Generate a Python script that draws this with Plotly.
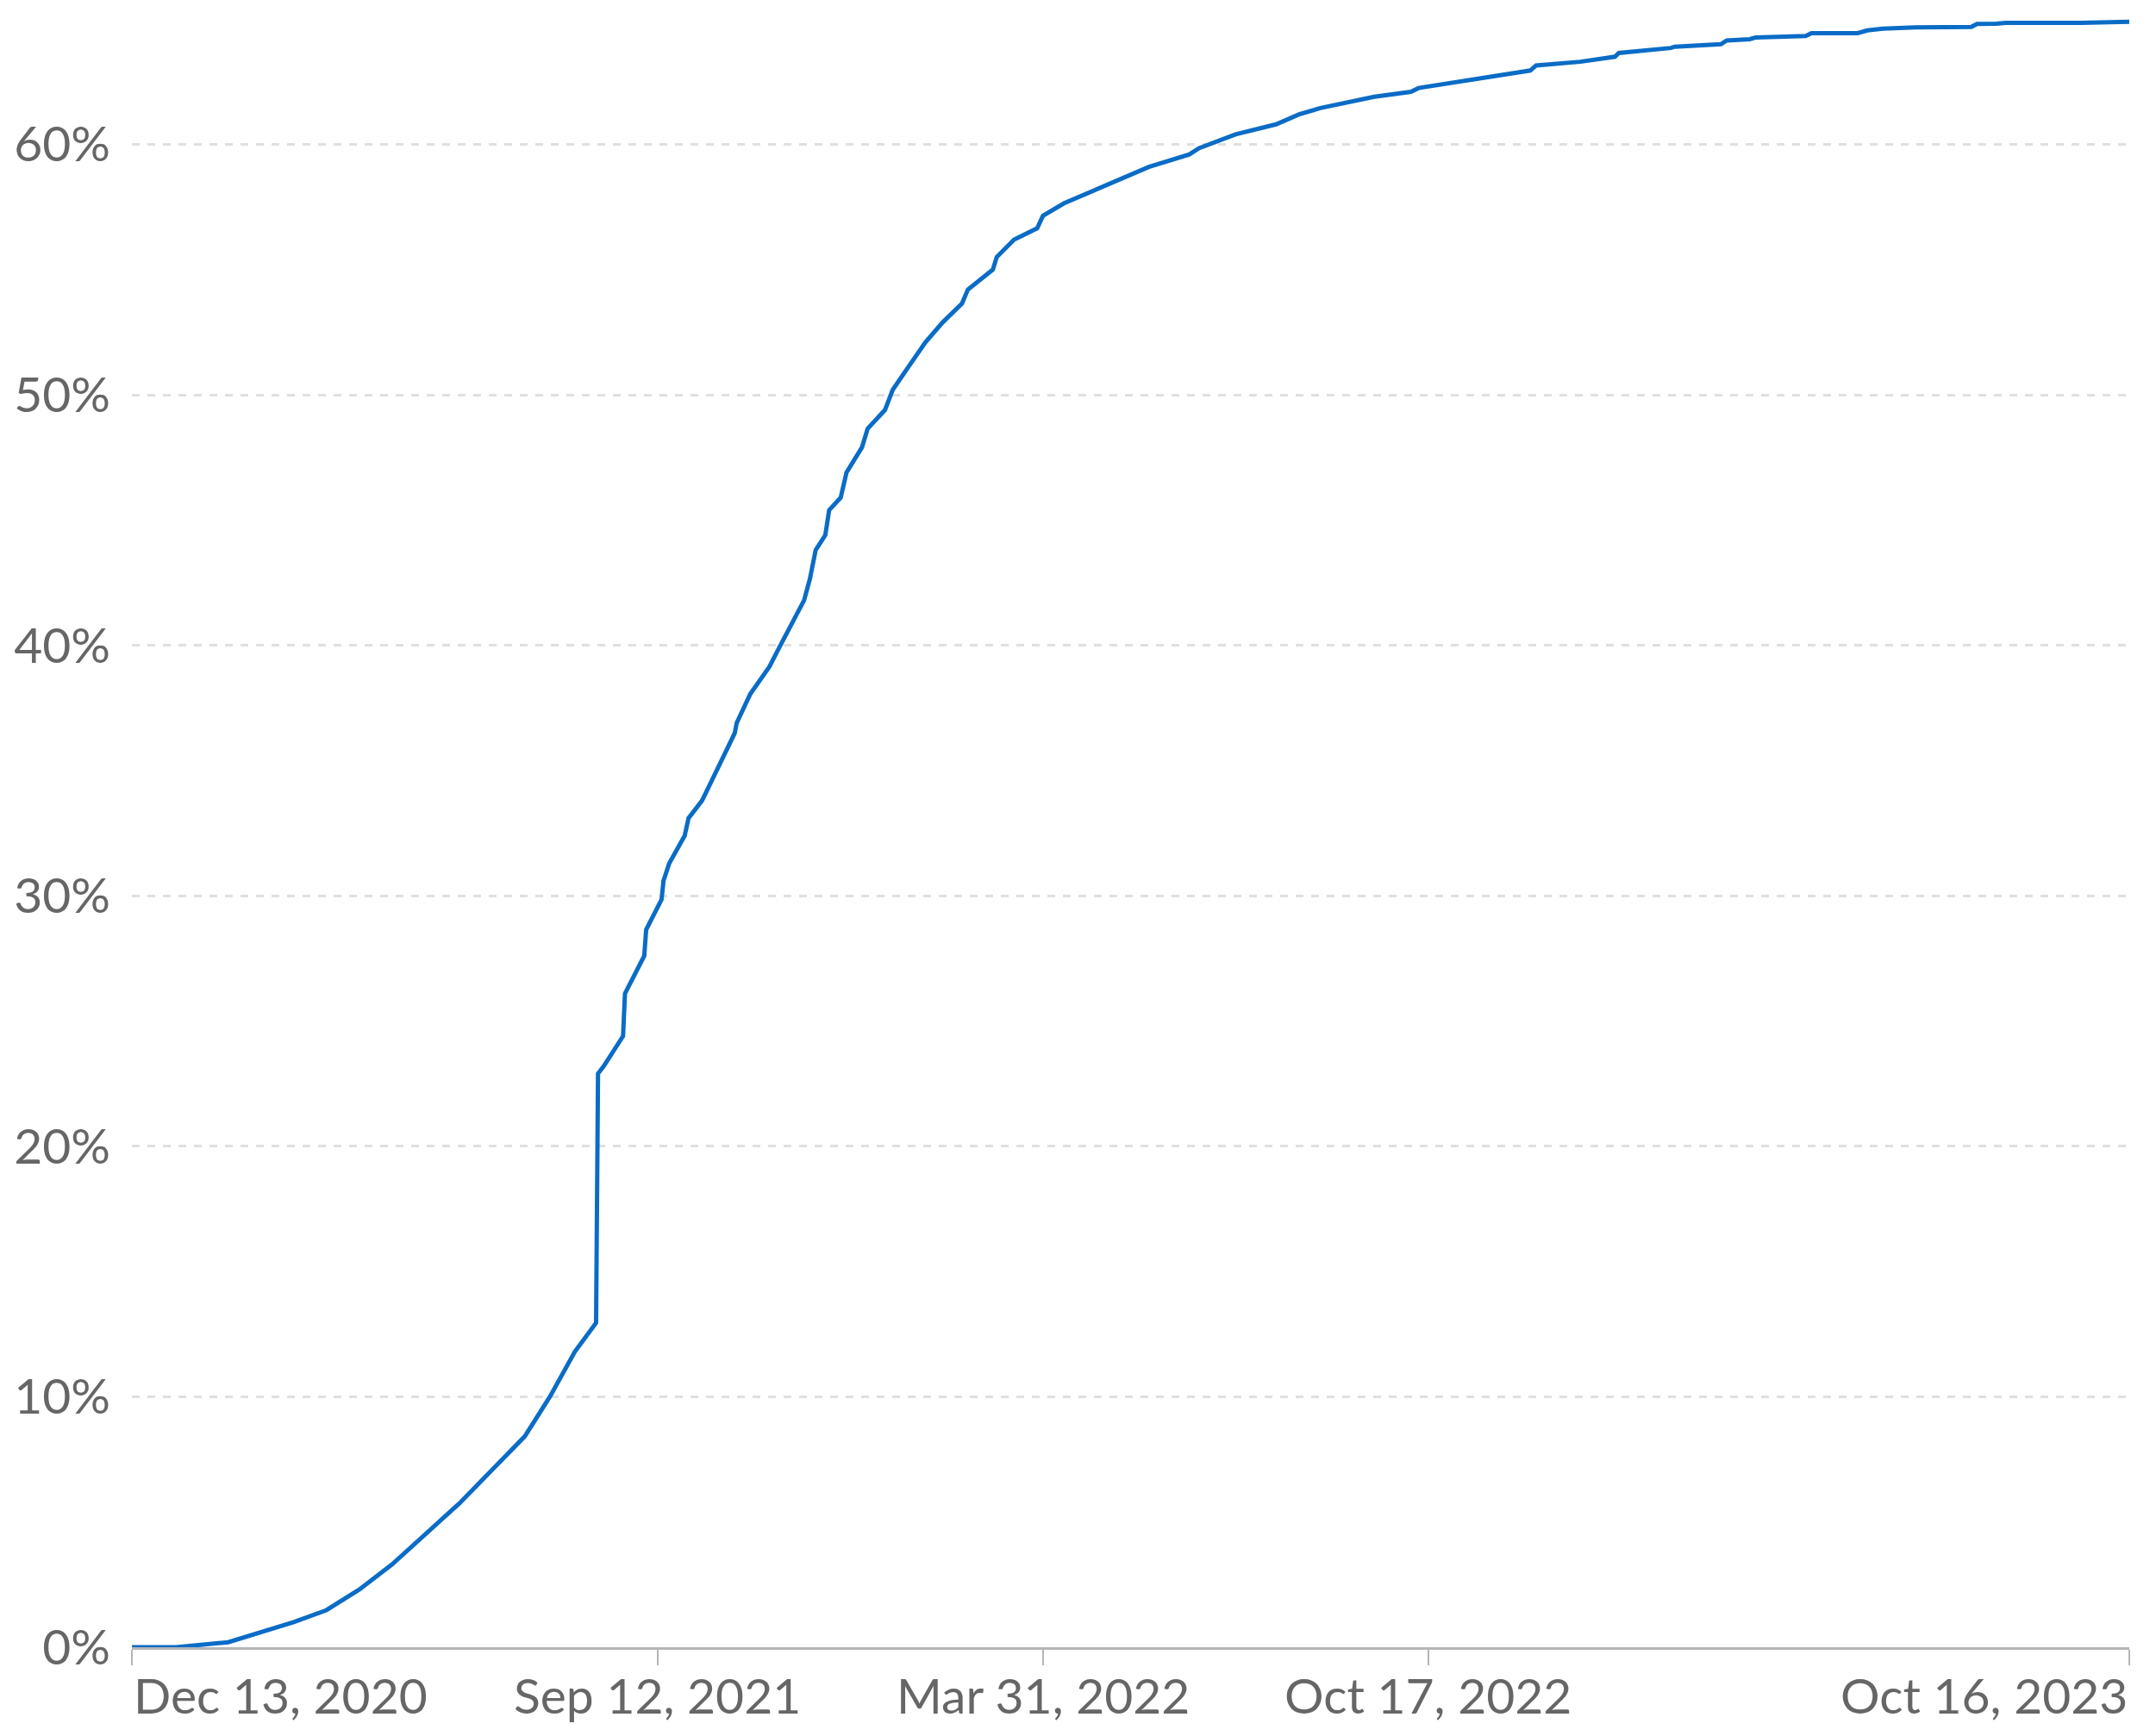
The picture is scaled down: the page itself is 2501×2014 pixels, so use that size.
import plotly.graph_objects as go

# cumulative share over time
dates = [
    "2020-12-13", "2021-01-05", "2021-02-01", "2021-02-18", "2021-03-07", "2021-03-24",
    "2021-04-10", "2021-04-27", "2021-05-15", "2021-06-01", "2021-06-18", "2021-07-05",
    "2021-07-18", "2021-07-31", "2021-08-11", "2021-08-12", "2021-08-15", "2021-08-25",
    "2021-08-26", "2021-09-05", "2021-09-06", "2021-09-14", "2021-09-15", "2021-09-18",
    "2021-09-26", "2021-09-28", "2021-10-05", "2021-10-11", "2021-10-17", "2021-10-22",
    "2021-10-23", "2021-10-30", "2021-11-09", "2021-11-14", "2021-11-27", "2021-11-30",
    "2021-12-03", "2021-12-08", "2021-12-10", "2021-12-16", "2021-12-19", "2021-12-27",
    "2021-12-30", "2022-01-08", "2022-01-12", "2022-01-20", "2022-01-29", "2022-02-07",
    "2022-02-17", "2022-02-20", "2022-03-05", "2022-03-07", "2022-03-16", "2022-03-28",
    "2022-03-31", "2022-04-11", "2022-04-25", "2022-04-30", "2022-05-18", "2022-05-25",
    "2022-06-15", "2022-06-20", "2022-07-09", "2022-07-30", "2022-08-11", "2022-08-22",
    "2022-09-19", "2022-10-08", "2022-10-12", "2022-10-29", "2022-11-16", "2022-12-09",
    "2022-12-12", "2023-01-04", "2023-01-22", "2023-01-24", "2023-02-20", "2023-02-22",
    "2023-03-18", "2023-03-21", "2023-04-02", "2023-04-05", "2023-05-01", "2023-05-04",
    "2023-05-28", "2023-06-02", "2023-06-10", "2023-06-27", "2023-07-26", "2023-07-29",
    "2023-08-08", "2023-08-13", "2023-09-21", "2023-10-02", "2023-10-16",
]
share = [
    0.0, 0.0, 0.2, 0.58, 1.0, 1.48,
    2.3, 3.3, 4.57, 5.74, 7.08, 8.42,
    10.0, 11.8, 12.95, 22.9, 23.2, 24.4,
    26.1, 27.6, 28.65, 29.85, 30.6, 31.3,
    32.4, 33.1, 33.8, 34.8, 35.7, 36.5,
    36.9, 38.05, 39.15, 39.9, 41.8, 42.65,
    43.8, 44.4, 45.4, 45.9, 46.9, 47.9,
    48.65, 49.4, 50.2, 51.1, 52.1, 52.9,
    53.65, 54.2, 55.0, 55.5, 56.2, 56.65,
    57.15, 57.65, 58.1, 58.3, 58.85, 59.1,
    59.6, 59.85, 60.4, 60.8, 61.2, 61.45,
    61.9, 62.1, 62.25, 62.45, 62.7, 62.95,
    63.15, 63.3, 63.5, 63.65, 63.85, 63.9,
    64.0, 64.15, 64.2, 64.27, 64.33, 64.44,
    64.44, 64.55, 64.62, 64.67, 64.69, 64.81,
    64.82, 64.85, 64.85, 64.89, 64.9,
]
share = [v / 100 for v in share]

tick_dates = ["2020-12-13", "2021-09-12", "2022-03-31", "2022-10-17", "2023-10-16"]
tick_text = ["Dec 13, 2020", "Sep 12, 2021", "Mar 31, 2022", "Oct 17, 2022", "Oct 16, 2023"]
tick_anchor = ["left", "center", "center", "center", "right"]

font = "Lato, 'Open Sans', sans-serif"
grey = "#666666"

fig = go.Figure()
fig.add_trace(go.Scatter(x=dates, y=share, mode="lines",
                         line=dict(color="#0a6cc6", width=5), showlegend=False))

# x tick labels as annotations so the first/last can hug the ends like the original
for d, t, a in zip(tick_dates, tick_text, tick_anchor):
    fig.add_annotation(x=d, y=0, xref="x", yref="paper", text=t, showarrow=False,
                       xanchor=a, yanchor="top", yshift=-19,
                       font=dict(family=font, size=57, color=grey))

fig.update_xaxes(range=[tick_dates[0], tick_dates[-1]], tickvals=tick_dates,
                 showticklabels=False, ticks="outside", ticklen=18, tickwidth=2,
                 tickcolor="#b5b5b5", showline=True, linecolor="#b5b5b5", linewidth=3,
                 showgrid=False, zeroline=False, layer="below traces")
fig.update_yaxes(range=[0, 0.6549], dtick=0.1, tickformat=".0%",
                 showgrid=True, gridcolor="#e0e0e0", gridwidth=3, griddash="dash",
                 zeroline=False, showline=False, ticks="", ticklabelstandoff=24,
                 tickfont=dict(family=font, size=57, color=grey))

fig.update_layout(width=2501, height=2014, plot_bgcolor="white", paper_bgcolor="white",
                  margin=dict(l=145, r=39, t=0, b=111), font=dict(family=font))

fig.write_html("out.html")
